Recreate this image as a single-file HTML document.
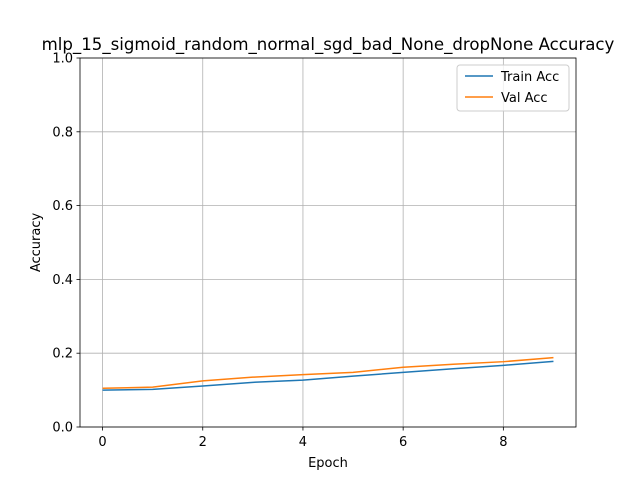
<!DOCTYPE html>
<html><head><meta charset="utf-8"><style>
body{margin:0;background:#fff}
svg{display:block;font-family:"DejaVu Sans","Liberation Sans",sans-serif}
</style></head><body>
<svg id="chart" width="640" height="480" viewBox="0 0 640 480">
<rect width="640" height="480" fill="#fff"/>
<g id="grid"></g>
<g id="ticks"></g>
<g id="lines"></g>
<rect x="80" y="58" width="496" height="369" fill="none" stroke="#000" stroke-width="0.8"/>
<text x="328" y="50" font-size="16.6" text-anchor="middle">mlp_15_sigmoid_random_normal_sgd_bad_None_dropNone Accuracy</text>
<text x="328" y="467" font-size="13" text-anchor="middle">Epoch</text>
<text transform="translate(40,242.5) rotate(-90)" font-size="13" text-anchor="middle">Accuracy</text>
<g>
<rect x="457" y="65" width="112" height="46" rx="3" fill="#fff" fill-opacity="0.8" stroke="#ccc"/>
<line x1="465" y1="76" x2="493" y2="76" stroke="#1f77b4" stroke-width="1.5"/>
<text x="501" y="81" font-size="13">Train Acc</text>
<line x1="465" y1="97" x2="493" y2="97" stroke="#ff7f0e" stroke-width="1.5"/>
<text x="501" y="102" font-size="13">Val Acc</text>
</g>
</svg>
<script>
const epochs=[0,1,2,3,4,5,6,7,8,9];
const trainAcc=[0.100,0.102,0.111,0.121,0.127,0.138,0.148,0.158,0.167,0.178];
const valAcc=[0.105,0.108,0.125,0.135,0.142,0.148,0.162,0.170,0.177,0.188];
const xTicks=[0,2,4,6,8];
const yTicks=[0.0,0.2,0.4,0.6,0.8,1.0];
const NS="http://www.w3.org/2000/svg";
const X=v=>80+(v+0.45)/9.9*496;
const Y=v=>427-v*369;
function mk(t,a,p){const e=document.createElementNS(NS,t);for(const k in a)e.setAttribute(k,a[k]);p.appendChild(e);return e;}
const grid=document.getElementById('grid'),ticks=document.getElementById('ticks'),lines=document.getElementById('lines');
xTicks.forEach(v=>{
 const g=mk('line',{x1:X(v),x2:X(v),y1:58,y2:427,stroke:'#b0b0b0','stroke-width':0.8},grid);
 
 
 mk('line',{x1:X(v),x2:X(v),y1:427,y2:430.5,stroke:'#000','stroke-width':0.8},ticks);
 const t=mk('text',{x:X(v),y:446,'font-size':13,'text-anchor':'middle'},ticks);t.textContent=v;
 
 
});
yTicks.forEach(v=>{
 const g=mk('line',{x1:80,x2:576,y1:Y(v),y2:Y(v),stroke:'#b0b0b0','stroke-width':0.8},grid);
 
 
 mk('line',{x1:76.5,x2:80,y1:Y(v),y2:Y(v),stroke:'#000','stroke-width':0.8},ticks);
 const t=mk('text',{x:73,y:Y(v)+4.5,'font-size':13,'text-anchor':'end'},ticks);t.textContent=v.toFixed(1);
 
 
});
function line(data,color,name){
 const p=mk('polyline',{points:data.map((v,i)=>X(epochs[i])+','+Y(v)).join(' '),fill:'none',stroke:color,'stroke-width':1.5},lines);
 
 
}
line(trainAcc,'#1f77b4','train-acc-line');
line(valAcc,'#ff7f0e','val-acc-line');
</script>
</body></html>
